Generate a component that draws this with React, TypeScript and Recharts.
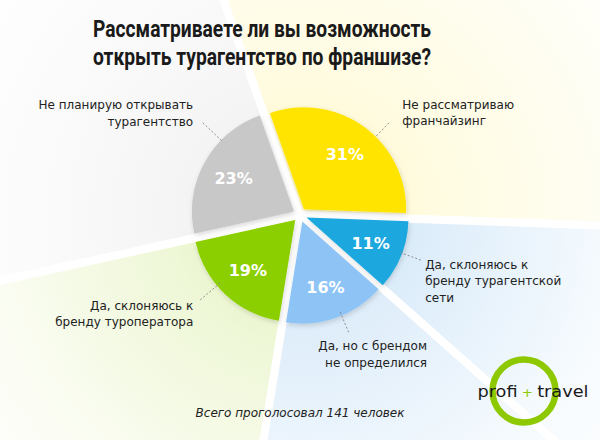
import React from 'react';
import { PieChart, Pie, Cell, Sector } from 'recharts';

// ---- data ----
const categories = [
  'Не рассматриваю франчайзинг',
  'Не планирую открывать турагентство',
  'Да, склоняюсь к бренду туроператора',
  'Да, но с брендом не определился',
  'Да, склоняюсь к бренду турагентской сети',
];
const values = [31, 23, 19, 16, 11];
const labelLines = [
  ['Не рассматриваю', 'франчайзинг'],
  ['Не планирую открывать', 'турагентство'],
  ['Да, склоняюсь к', 'бренду туроператора'],
  ['Да, но с брендом', 'не определился'],
  ['Да, склоняюсь к', 'бренду турагентской', 'сети'],
];
const titleLines = ['Рассматриваете ли вы возможность', 'открыть турагентство по франшизе?'];
const footerText = 'Всего проголосовал 141 человек';

// ---- styles / layout ----
const sliceColors = ['#FFE400', '#C8C8C8', '#8CCF00', '#8EC3F6', '#1BA8DE'];
const bgStops = [
  ['#fff5b8', '#fffbe0', '#fffef5'],
  ['#ececec', '#f5f5f5', '#fdfdfd'],
  ['#e2f1b4', '#eef7d6', '#fbfdf4'],
  ['#d3e7f8', '#e0eefa', '#f7fbfe'],
  ['#cfe6f7', '#ddedfa', '#f7fbfe'],
];
const LABEL_LAYOUT = [
  { angle: 46, r1: 110, r2: 130, anchor: 'start', dx: 12, dy: -16.5 },
  { angle: 136.5, r1: 108, r2: 135, anchor: 'end', dx: -9, dy: -17 },
  { angle: 220.4, r1: 105, r2: 131, anchor: 'end', dx: -7, dy: 6 },
  { angle: 292.5, r1: 105, r2: 128, anchor: 'end', dx: 78, dy: 13 },
  { angle: 339.5, r1: 107, r2: 131, anchor: 'start', dx: 2.5, dy: 4 },
];
const CX = 300;
const CY = 215;
const R = 102;
const EXPLODE = 7;
const PCT_R = 76;
const LINE_H = 16.5;

const chartData = categories.map((name, i) => ({ name, value: values[i] }));

const RAD = Math.PI / 180;
const polar = (cx: number, cy: number, r: number, a: number) => ({
  x: cx + r * Math.cos(-a * RAD),
  y: cy + r * Math.sin(-a * RAD),
});

function ExplodedSector(props: any) {
  const { cx, cy, midAngle } = props;
  const p = polar(cx, cy, EXPLODE, midAngle);
  return <Sector {...props} cx={p.x} cy={p.y} filter="url(#sliceShadow)" />;
}

function renderLabel(props: any) {
  const { cx, cy, midAngle, index, value } = props;
  const lay = LABEL_LAYOUT[index];
  const pc = polar(cx, cy, PCT_R, midAngle);
  const s = polar(cx, cy, lay.r1, lay.angle);
  const e = polar(cx, cy, lay.r2, lay.angle);
  const lines = labelLines[index];
  return (
    <g>
      <text
        x={pc.x}
        y={pc.y + 6}
        textAnchor="middle"
        fill="#ffffff"
        fontFamily="'DejaVu Sans', Verdana, sans-serif"
        fontWeight="bold"
        fontSize={16}
      >
        {value}%
      </text>
      <line x1={s.x} y1={s.y} x2={e.x} y2={e.y} stroke="#8c8c8c" strokeWidth={1} strokeDasharray="2 2" />
      <text fontFamily="'DejaVu Sans', Verdana, sans-serif" fontSize={12} fill="#222" textAnchor={lay.anchor}>
        {lines.map((l, i) => (
          <tspan key={i} x={e.x + lay.dx} y={e.y + lay.dy + i * LINE_H + 4}>
            {l}
          </tspan>
        ))}
      </text>
    </g>
  );
}

export default function App() {
  return (
    <div style={{ position: 'absolute', left: 0, top: 0, width: 600, height: 440, background: '#fff', overflow: 'hidden' }}>
      <svg width={0} height={0} style={{ position: 'absolute' }}>
        <defs>
          {bgStops.map((s, i) => (
            <radialGradient key={i} id={`bg${i}`} gradientUnits="userSpaceOnUse" cx={CX} cy={CY} r={430}>
              <stop offset="0" stopColor={s[0]} />
              <stop offset="0.3" stopColor={s[1]} />
              <stop offset="0.75" stopColor={s[2]} />
              <stop offset="1" stopColor="#ffffff" />
            </radialGradient>
          ))}
          <filter id="sliceShadow" x="-30%" y="-30%" width="160%" height="160%">
            <feDropShadow dx="1" dy="2" stdDeviation="2.5" floodColor="#000" floodOpacity="0.15" />
          </filter>
        </defs>
      </svg>
      <PieChart width={600} height={440} margin={{ top: 0, right: 0, bottom: 0, left: 0 }}>
        <Pie
          data={chartData}
          dataKey="value"
          nameKey="name"
          cx={CX}
          cy={CY}
          innerRadius={0}
          outerRadius={600}
          startAngle={-2}
          endAngle={358}
          stroke="#ffffff"
          strokeWidth={8}
          isAnimationActive={false}
          label={false}
          labelLine={false}
        >
          {chartData.map((d, i) => (
            <Cell key={d.name} fill={`url(#bg${i})`} />
          ))}
        </Pie>
        <Pie
          data={chartData}
          dataKey="value"
          nameKey="name"
          cx={CX}
          cy={CY}
          innerRadius={0}
          outerRadius={R}
          startAngle={-2}
          endAngle={358}
          stroke="none"
          isAnimationActive={false}
          shape={ExplodedSector}
          activeShape={ExplodedSector}
          inactiveShape={ExplodedSector}
          label={renderLabel}
          labelLine={false}
        >
          {chartData.map((d, i) => (
            <Cell key={d.name} fill={sliceColors[i]} />
          ))}
        </Pie>
      </PieChart>
      <svg width={600} height={440} style={{ position: 'absolute', left: 0, top: 0, pointerEvents: 'none' }}>
        {titleLines.map((t, i) => (
          <text
            key={i}
            x={262}
            y={37 + i * 28}
            textAnchor="middle"
            fontFamily="Roboto, sans-serif"
            fontWeight={700}
            fontSize={23}
            fill="#1a1a1a"
            textLength={338}
            lengthAdjust="spacingAndGlyphs"
          >
            {t}
          </text>
        ))}
        <text
          x={300}
          y={417}
          textAnchor="middle"
          fontFamily="'DejaVu Sans', Verdana, sans-serif"
          fontStyle="italic"
          fontSize={12}
          fill="#222"
        >
          {footerText}
        </text>
        <circle cx={524} cy={391} r={31.5} fill="none" stroke="#8DC800" strokeWidth={6.5} />
        <text
          x={533}
          y={397}
          textAnchor="middle"
          fontFamily="'DejaVu Sans', Verdana, sans-serif"
          fontSize={16}
          fill="#1a1a1a"
          textLength={111}
          lengthAdjust="spacingAndGlyphs"
        >
          profi<tspan fill="#8DC800" fontSize={12}> + </tspan>travel
        </text>
      </svg>
    </div>
  );
}
